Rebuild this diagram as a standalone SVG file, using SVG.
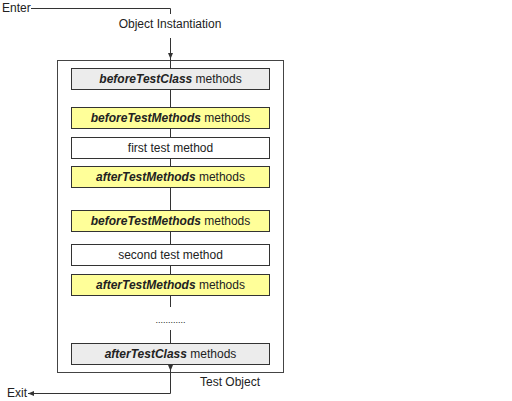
<svg xmlns="http://www.w3.org/2000/svg" width="512" height="401" viewBox="0 0 512 401">
<defs>
<style>
text{font-family:"Liberation Sans",Arial,sans-serif;font-size:12px;fill:#222}
.c{text-anchor:middle}
.b{font-weight:bold;font-style:italic}
.box{stroke:#333;stroke-width:1}
.gray{fill:#ececec}
.yel{fill:#ffff99}
.wht{fill:#fff}
.ln{stroke:#333;stroke-width:1;fill:none}
</style>
<marker id="ah" viewBox="0 0 6 6" refX="6" refY="3" markerWidth="6" markerHeight="6" orient="auto" markerUnits="userSpaceOnUse">
<path d="M0,0.5 L6,3 L0,5.5 Z" fill="#333"/>
</marker>
</defs>
<rect width="512" height="401" fill="#fff"/>
<g id="test-object">
<rect x="57.5" y="60.5" width="226" height="312" fill="none" stroke="#444" stroke-width="1"/>
<text x="200" y="386">Test Object</text>
</g>
<g id="connectors">
<path class="ln" d="M31,8.5 H170.5 V14"/>
<path class="ln" d="M170.5,38 V59" marker-end="url(#ah)"/>
<path class="ln" d="M170.5,59 V68"/>
<path class="ln" d="M170.5,89 V107"/>
<path class="ln" d="M170.5,128 V137"/>
<path class="ln" d="M170.5,158 V166"/>
<path class="ln" d="M170.5,187 V210"/>
<path class="ln" d="M170.5,231 V244"/>
<path class="ln" d="M170.5,265 V274"/>
<path class="ln" d="M170.5,295 V307"/>
<path class="ln" d="M170.5,330 V343"/>
<path class="ln" d="M170.5,364 V371" marker-end="url(#ah)"/>
<path class="ln" d="M170.5,371 V393.5 H28" marker-end="url(#ah)"/>
</g>
<g id="enter"><text x="2" y="12">Enter</text></g>
<g id="instantiation"><text class="c" x="170" y="28">Object Instantiation</text></g>
<g id="exit"><text x="7" y="397">Exit</text></g>
<g id="before-class">
<rect class="box gray" x="71.5" y="68.5" width="198" height="21"/>
<text class="c" x="170.5" y="83"><tspan class="b">beforeTestClass</tspan> methods</text>
</g>
<g id="before-methods-1">
<rect class="box yel" x="71.5" y="107.5" width="198" height="21"/>
<text class="c" x="170.5" y="122"><tspan class="b">beforeTestMethods</tspan> methods</text>
</g>
<g id="first-test">
<rect class="box wht" x="71.5" y="137.5" width="198" height="21"/>
<text class="c" x="170.5" y="152">first test method</text>
</g>
<g id="after-methods-1">
<rect class="box yel" x="71.5" y="166.5" width="198" height="21"/>
<text class="c" x="170.5" y="181"><tspan class="b">afterTestMethods</tspan> methods</text>
</g>
<g id="before-methods-2">
<rect class="box yel" x="71.5" y="210.5" width="198" height="21"/>
<text class="c" x="170.5" y="225"><tspan class="b">beforeTestMethods</tspan> methods</text>
</g>
<g id="second-test">
<rect class="box wht" x="71.5" y="244.5" width="198" height="21"/>
<text class="c" x="170.5" y="259">second test method</text>
</g>
<g id="after-methods-2">
<rect class="box yel" x="71.5" y="274.5" width="198" height="21"/>
<text class="c" x="170.5" y="289"><tspan class="b">afterTestMethods</tspan> methods</text>
</g>
<g id="ellipsis"><text class="c" x="170.5" y="323" style="font-size:9px">............</text></g>
<g id="after-class">
<rect class="box gray" x="71.5" y="343.5" width="198" height="21"/>
<text class="c" x="170.5" y="358"><tspan class="b">afterTestClass</tspan> methods</text>
</g>
</svg>
